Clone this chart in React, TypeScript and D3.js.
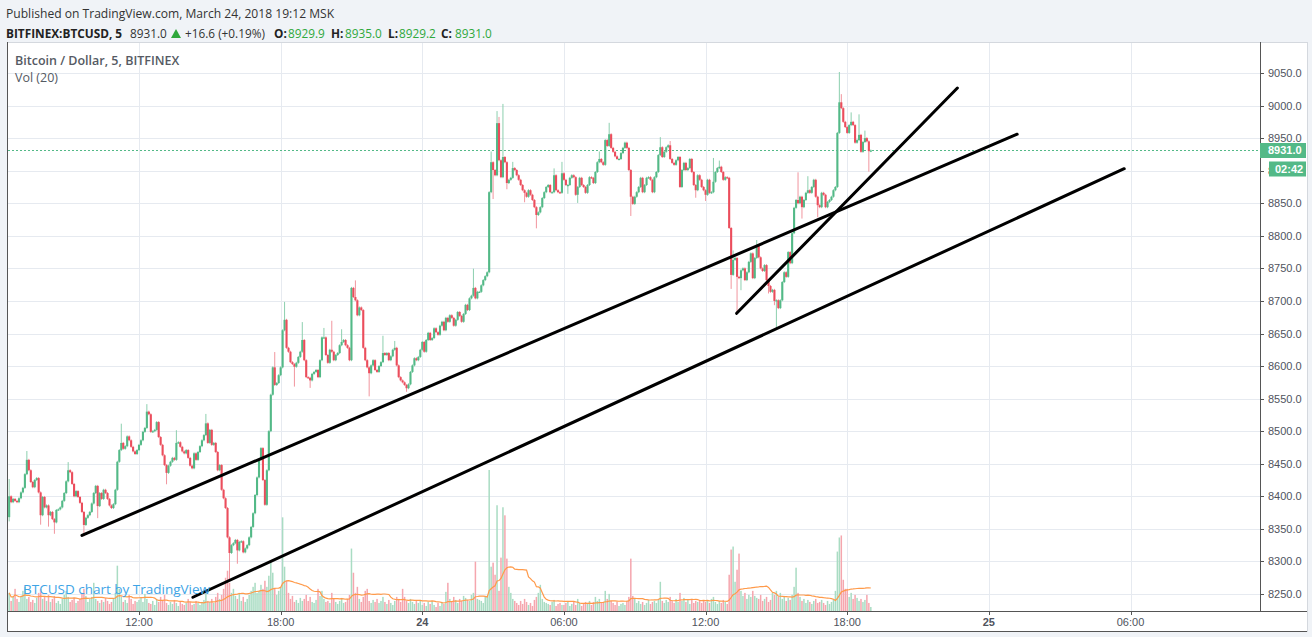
import React from "react";
import * as d3 from "d3";

// ---------- DATA ----------
const START = new Date(2018, 2, 23, 6, 30); // first 5-minute candle
const STEP_MS = 5 * 60 * 1000;
const OPEN0 = 8368;

const closes = [
  8400, 8391, 8396, 8393, 8391, 8397,
  8406, 8413, 8434, 8456, 8440, 8422,
  8414, 8425, 8428, 8406, 8371, 8399,
  8383, 8386, 8371, 8376, 8365, 8360,
  8379, 8380, 8383, 8393, 8405, 8423,
  8440, 8437, 8419, 8400, 8408, 8399,
  8390, 8376, 8356, 8367, 8371, 8376,
  8389, 8405, 8416, 8385, 8405, 8396,
  8410, 8405, 8396, 8386, 8382, 8388,
  8410, 8453, 8471, 8482, 8473, 8477,
  8492, 8486, 8476, 8469, 8465, 8471,
  8479, 8486, 8499, 8505, 8530, 8526,
  8499, 8500, 8502, 8514, 8491, 8479,
  8463, 8448, 8436, 8447, 8453, 8459,
  8456, 8482, 8483, 8476, 8469, 8466,
  8471, 8459, 8447, 8443, 8466, 8456,
  8468, 8477, 8486, 8494, 8512, 8482,
  8502, 8479, 8482, 8468, 8440, 8448,
  8410, 8397, 8382, 8337, 8313, 8325,
  8328, 8333, 8317, 8330, 8331, 8314,
  8320, 8325, 8337, 8353, 8374, 8402,
  8429, 8456, 8474, 8425, 8387, 8440,
  8500, 8556, 8598, 8571, 8574, 8586,
  8598, 8655, 8671, 8628, 8622, 8606,
  8603, 8599, 8605, 8614, 8622, 8640,
  8609, 8583, 8582, 8578, 8588, 8591,
  8594, 8583, 8609, 8644, 8644, 8617,
  8605, 8625, 8622, 8609, 8617, 8620,
  8632, 8637, 8640, 8632, 8628, 8609,
  8720, 8706, 8701, 8678, 8690, 8686,
  8628, 8609, 8598, 8589, 8601, 8609,
  8594, 8591, 8600, 8606, 8620, 8617,
  8620, 8609, 8615, 8625, 8628, 8601,
  8583, 8578, 8575, 8571, 8566, 8572,
  8591, 8601, 8612, 8609, 8614, 8625,
  8637, 8622, 8640, 8651, 8640, 8643,
  8658, 8652, 8648, 8662, 8668, 8655,
  8674, 8668, 8678, 8674, 8662, 8671,
  8683, 8677, 8668, 8680, 8694, 8686,
  8704, 8708, 8720, 8704, 8714, 8714,
  8724, 8732, 8738, 8744, 8867, 8913,
  8901, 8893, 8973, 8916, 8890, 8921,
  8913, 8881, 8886, 8889, 8904, 8901,
  8893, 8886, 8878, 8870, 8866, 8860,
  8870, 8863, 8855, 8844, 8832, 8836,
  8844, 8858, 8867, 8875, 8878, 8867,
  8867, 8893, 8870, 8867, 8866, 8896,
  8886, 8878, 8878, 8889, 8893, 8890,
  8863, 8875, 8889, 8878, 8875, 8866,
  8878, 8890, 8889, 8881, 8898, 8913,
  8918, 8913, 8909, 8947, 8938, 8956,
  8935, 8929, 8922, 8918, 8918, 8927,
  8935, 8943, 8935, 8901, 8860, 8849,
  8860, 8867, 8875, 8889, 8867, 8878,
  8889, 8890, 8886, 8867, 8890, 8898,
  8924, 8936, 8921, 8929, 8936, 8939,
  8918, 8912, 8909, 8916, 8921, 8875,
  8901, 8912, 8901, 8904, 8918, 8898,
  8878, 8870, 8893, 8886, 8875, 8870,
  8863, 8886, 8866, 8867, 8883, 8898,
  8904, 8906, 8898, 8886, 8890, 8889,
  8812, 8740, 8763, 8766, 8737, 8735,
  8747, 8750, 8732, 8744, 8760, 8773,
  8735, 8766, 8786, 8767, 8750, 8746,
  8755, 8732, 8723, 8714, 8717, 8700,
  8701, 8689, 8701, 8729, 8744, 8737,
  8775, 8758, 8804, 8843, 8855, 8850,
  8860, 8844, 8855, 8866, 8870, 8866,
  8875, 8886, 8860, 8847, 8844, 8866,
  8863, 8844, 8852, 8855, 8860, 8870,
  8875, 8958, 9005, 8996, 8975, 8967,
  8958, 8970, 8975, 8970, 8943, 8947,
  8955, 8929, 8944, 8950, 8945, 8930,
  8931,
];

// visible wick extremes: [candle index, high, low]
const wicks = [
  [0, 8425, 8363], [9, 8468, null], [16, null, 8358], [20, null, 8355], [23, null, 8344],
  [30, 8451, null], [38, null, 8340], [45, null, 8368], [57, 8510, null], [70, 8540, null],
  [80, null, 8420], [85, 8500, null], [100, 8525, null], [112, null, 8272], [116, null, 8298],
  [135, 8620, null], [140, 8697, null], [145, null, 8570], [149, 8666, null], [153, null, 8568],
  [160, 8657, null], [164, 8668, null], [169, 8655, null], [176, 8730, null], [183, null, 8555],
  [190, 8645, null], [196, 8637, null], [202, null, 8562], [236, 8748, null], [245, 8928, null],
  [246, null, 8858], [248, 8990, null], [249, 8981, null], [251, 9001, null], [253, null, 8873],
  [256, 8912, null], [262, null, 8853], [268, null, 8813], [277, 8902, null], [281, 8912, null],
  [284, null, 8866], [289, null, 8852], [300, 8928, null], [305, 8972, null], [316, null, 8832],
  [331, 8950, null], [336, 8944, null], [349, null, 8860], [354, null, 8855], [358, 8918, null],
  [361, 8914, null], [367, null, 8720], [368, 8776, null], [370, null, 8683], [372, null, 8718],
  [380, 8792, null], [386, null, 8713], [389, null, 8695], [390, null, 8660], [401, 8896, null],
  [403, null, 8828], [406, 8890, null], [411, null, 8830], [422, 9050, null], [423, 9016, null],
  [428, 8988, null], [432, 8985, null], [435, 8960, null], [437, null, 8900],
];

const volumes = [
  18, 10, 14, 22, 12, 9,
  15, 20, 24, 12, 14, 9, 11, 8, 13, 18, 22, 12,
  14, 10, 16, 9, 12, 15, 8, 10, 7, 12, 16, 20,
  14, 9, 11, 13, 8, 10, 12, 18, 22, 15, 9, 12,
  14, 28, 12, 10, 8, 11, 9, 13, 10, 7, 9, 12,
  18, 45, 22, 14, 9, 11, 8, 16, 12, 7, 10, 9,
  11, 13, 9, 17, 12, 8, 7, 10, 6, 12, 9, 14,
  10, 16, 8, 6, 9, 7, 11, 8, 5, 9, 7, 6,
  8, 12, 9, 6, 7, 10, 8, 6, 9, 11, 21, 10,
  9, 12, 8, 14, 18, 12, 16, 22, 33, 40, 28, 18,
  22, 15, 12, 18, 10, 14, 9, 12, 16, 20, 24, 28,
  18, 20, 26, 22, 30, 24, 35, 50, 38, 22, 16, 20,
  24, 93, 44, 30, 18, 12, 15, 9, 11, 8, 13, 10,
  12, 16, 10, 14, 9, 8, 11, 22, 15, 20, 12, 9,
  10, 8, 18, 12, 9, 7, 10, 13, 8, 9, 12, 16,
  62, 38, 18, 24, 12, 9, 14, 20, 22, 10, 8, 11,
  9, 12, 8, 10, 14, 9, 7, 11, 8, 6, 10, 14,
  12, 9, 22, 14, 10, 8, 12, 9, 7, 10, 8, 11,
  6, 8, 5, 9, 7, 10, 6, 4, 8, 5, 9, 7,
  19, 28, 12, 9, 14, 11, 8, 12, 10, 15, 13, 11,
  10, 16, 18, 49, 12, 11, 10, 8, 14, 15, 140, 44,
  48, 36, 105, 20, 53, 103, 95, 52, 24, 18, 12, 10,
  8, 6, 10, 7, 12, 9, 6, 8, 5, 11, 14, 18,
  26, 12, 9, 8, 7, 6, 9, 11, 5, 7, 8, 6,
  6, 8, 10, 5, 7, 9, 6, 12, 8, 5, 7, 9,
  8, 10, 6, 9, 14, 10, 12, 8, 9, 20, 12, 17,
  10, 8, 6, 9, 5, 7, 8, 6, 10, 14, 52, 15,
  12, 8, 10, 7, 9, 6, 8, 11, 7, 9, 10, 8,
  12, 29, 10, 8, 11, 9, 14, 10, 8, 12, 9, 18,
  10, 13, 9, 11, 7, 12, 8, 10, 9, 11, 8, 10,
  9, 11, 8, 12, 14, 9, 7, 10, 8, 11, 9, 7,
  36, 61, 64, 29, 41, 57, 20, 15, 18, 12, 16, 14,
  20, 15, 13, 12, 16, 10, 12, 14, 9, 11, 18, 16,
  20, 14, 18, 12, 15, 10, 13, 11, 16, 24, 43, 18,
  14, 10, 12, 8, 11, 9, 7, 10, 12, 8, 9, 11,
  8, 6, 10, 7, 9, 12, 20, 59, 73, 75, 31, 22,
  22, 14, 18, 12, 16, 13, 10, 12, 9, 11, 16, 8, 4,
];

const priceTicks = [8250, 8300, 8350, 8400, 8450, 8500, 8550, 8600, 8650, 8700, 8750, 8800, 8850, 8900, 8950, 9000, 9050];
const timeTickDates = [
  new Date(2018, 2, 23, 12), new Date(2018, 2, 23, 18), new Date(2018, 2, 24, 0), new Date(2018, 2, 24, 6),
  new Date(2018, 2, 24, 12), new Date(2018, 2, 24, 18), new Date(2018, 2, 25, 0), new Date(2018, 2, 25, 6),
];
const timeTickLabels = ["12:00", "18:00", "24", "06:00", "12:00", "18:00", "25", "06:00"];
const timeTickBold = [false, false, true, false, false, false, true, false];

// trend lines drawn by the author: [start time, start price, end time, end price]
const trendLines = [
  [new Date(2018, 2, 23, 9, 35), 8340, new Date(2018, 2, 25, 1, 12), 8956],
  [new Date(2018, 2, 23, 14, 17), 8245, new Date(2018, 2, 25, 5, 44), 8903],
  [new Date(2018, 2, 24, 13, 19), 8681, new Date(2018, 2, 24, 22, 40), 9027],
];

const LAST_PRICE = 8931.0;
const COUNTDOWN = "02:42";
const MA_LEN = 20;

// ---------- COLORS ----------
const UP = "#53b987";
const DOWN = "#eb4d5c";
const UP_WICK = "#8ccfae";
const DOWN_WICK = "#f1959e";
const UP_VOL = "#a9dcc3";
const DOWN_VOL = "#f5a6ae";
const GRID = "#e6eaf0";
const AXIS_TEXT = "#4f535d";
const FONT = "'Open Sans', 'Liberation Sans', Arial, sans-serif";
const AXIS_FONT = "'Liberation Sans', Arial, sans-serif";

export default function App() {
  const W = 1312, H = 637;
  const plot = { l: 8, r: 1260, t: 43, b: 611 };
  const frame = { l: 7, r: 1308, t: 42, b: 632 };

  const x = d3.scaleTime()
    .domain([new Date(2018, 2, 23, 12), new Date(2018, 2, 25, 6)])
    .range([139, 1130.5]);
  const y = d3.scaleLinear().domain([8250, 9050]).range([594, 73]);
  const vy = d3.scaleLinear().domain([0, d3.max(volumes) as number]).range([plot.b, 470]);

  const wickMap = new Map<number, any>();
  wicks.forEach((w) => wickMap.set(w[0] as number, w));

  const n = Math.min(closes.length, volumes.length);
  const candles = d3.range(n).map((i) => {
    const o = i === 0 ? OPEN0 : closes[i - 1];
    const c = closes[i];
    const w = wickMap.get(i);
    const hi = w && w[1] != null ? Math.max(w[1], o, c) : Math.max(o, c);
    const lo = w && w[2] != null ? Math.min(w[2], o, c) : Math.min(o, c);
    return { t: new Date(START.getTime() + i * STEP_MS), o, c, hi, lo, v: volumes[i], up: c >= o };
  });

  const ma = candles.map((_, i) => d3.mean(volumes.slice(Math.max(0, i - MA_LEN + 1), i + 1)) as number);
  const maPath = d3.line<number>()
    .x((_, i) => x(candles[i].t))
    .y((v) => vy(v))(ma);

  const bodyW = 2.1;
  const volW = 1.5;
  const lastY = y(LAST_PRICE);

  return (
    <div style={{ position: "absolute", left: 0, top: 0, width: W, height: H }}>
      <svg width={W} height={H} style={{ display: "block" }}>
        <defs>
          <clipPath id="plotClip">
            <rect x={plot.l} y={plot.t} width={plot.r - plot.l} height={plot.b - plot.t} />
          </clipPath>
          <clipPath id="hiddenLabelClip">
            <rect x={plot.r} y={plot.t} width={9} height={plot.b - plot.t} />
          </clipPath>
        </defs>
        <rect x={0} y={0} width={W} height={H} fill="#f0f3f7" />

        {/* header */}
        <text x={6} y={18} fontFamily={FONT} fontSize={12.1} fill="#333">
          Published on TradingView.com, March 24, 2018 19:12 MSK
        </text>
        <g fontFamily={FONT} fontSize={11.8}>
          <text x={6} y={38} fontWeight="bold" fill="#222">BITFINEX:BTCUSD, 5</text>
          <text x={130} y={38} fill="#333">8931.0</text>
          <path d="M171,38 L181,38 L176,29 Z" fill="#2fa83c" />
          <text x={185} y={38} fill="#333">+16.6 (+0.19%)</text>
          <text x={274} y={38} fontWeight="bold" fill="#222">O:</text>
          <text x={288} y={38} fill="#2fa83c">8929.9</text>
          <text x={331} y={38} fontWeight="bold" fill="#222">H:</text>
          <text x={345} y={38} fill="#2fa83c">8935.0</text>
          <text x={388} y={38} fontWeight="bold" fill="#222">L:</text>
          <text x={399} y={38} fill="#2fa83c">8929.2</text>
          <text x={441} y={38} fontWeight="bold" fill="#222">C:</text>
          <text x={455} y={38} fill="#2fa83c">8931.0</text>
        </g>

        {/* chart frame */}
        <rect x={frame.l} y={frame.t} width={frame.r - frame.l} height={frame.b - frame.t} fill="#fff" />

        {/* grid */}
        <g>
          {priceTicks.map((p) => (
            <line key={"hg" + p} x1={plot.l} x2={plot.r} y1={Math.round(y(p)) + 0.5} y2={Math.round(y(p)) + 0.5} stroke={GRID} />
          ))}
          {timeTickDates.map((d, i) => (
            <line key={"vg" + i} x1={Math.round(x(d)) + 0.5} x2={Math.round(x(d)) + 0.5} y1={plot.t} y2={plot.b} stroke={GRID} />
          ))}
        </g>

        <g clipPath="url(#plotClip)">
          {/* volume */}
          {candles.map((d, i) => (
            <rect key={"v" + i} x={x(d.t) - volW / 2} y={vy(d.v)} width={volW} height={plot.b - vy(d.v)} fill={d.up ? UP_VOL : DOWN_VOL} />
          ))}
          <path d={maPath || ""} fill="none" stroke="#ff9a4a" strokeWidth={1.2} />

          {/* last price line */}
          <line x1={plot.l} x2={plot.r} y1={Math.round(lastY) + 0.5} y2={Math.round(lastY) + 0.5} stroke={UP} strokeDasharray="2,2" />

          {/* candles */}
          {candles.map((d, i) => {
            const cx = x(d.t);
            const top = y(Math.max(d.o, d.c));
            const bot = y(Math.min(d.o, d.c));
            return (
              <g key={"c" + i}>
                <line x1={cx} x2={cx} y1={y(d.hi) - 1} y2={y(d.lo) + 1} stroke={d.up ? UP_WICK : DOWN_WICK} strokeWidth={1} />
                <rect x={cx - bodyW / 2} y={top} width={bodyW} height={Math.max(1.2, bot - top)} fill={d.up ? UP : DOWN} />
              </g>
            );
          })}

          {/* trend lines */}
          {trendLines.map((l, i) => (
            <line key={"tl" + i} x1={x(l[0] as Date)} y1={y(l[1] as number)} x2={x(l[2] as Date)} y2={y(l[3] as number)}
              stroke="#000" strokeWidth={3} strokeLinecap="round" />
          ))}

          {/* watermark */}
          <text x={23} y={594} fontFamily={FONT} fontSize={13.5} fill="#3ea4e6">BTCUSD chart by TradingView</text>
        </g>

        {/* legend */}
        <text x={15} y={65} fontFamily={FONT} fontSize={12.5} fontWeight={600} fill="#555a63">Bitcoin / Dollar, 5, BITFINEX</text>
        <text x={15} y={82} fontFamily={FONT} fontSize={12.5} fill="#555a63">Vol (20)</text>

        {/* borders */}
        <line x1={frame.l} x2={frame.r} y1={frame.t + 0.5} y2={frame.t + 0.5} stroke="#d4d8de" />
        <line x1={frame.l + 0.5} x2={frame.l + 0.5} y1={frame.t} y2={frame.b} stroke="#555" />
        <line x1={plot.r + 0.5} x2={plot.r + 0.5} y1={frame.t} y2={plot.b} stroke="#555" />
        <line x1={frame.l} x2={frame.r} y1={plot.b + 0.5} y2={plot.b + 0.5} stroke="#555" />
        <line x1={frame.l} x2={frame.r} y1={frame.b - 0.5} y2={frame.b - 0.5} stroke="#555" />
        <line x1={frame.r - 0.5} x2={frame.r - 0.5} y1={frame.t} y2={frame.b} stroke="#d4d8de" />

        {/* price axis */}
        <g fontFamily={AXIS_FONT} fontSize={11} fill={AXIS_TEXT}>
          {priceTicks.map((p) => {
            const hidden = Math.abs(y(p) - (lastY + 18)) < 8;
            return (
              <g key={"pt" + p}>
                <line x1={plot.r} x2={plot.r + 4} y1={Math.round(y(p)) + 0.5} y2={Math.round(y(p)) + 0.5} stroke="#555" />
                <text x={1268} y={y(p) + 4} clipPath={hidden ? "url(#hiddenLabelClip)" : undefined}>{p.toFixed(1)}</text>
              </g>
            );
          })}
        </g>
        <rect x={plot.r} y={lastY - 7.5} width={46} height={15} fill={UP} />
        <text x={1268} y={lastY + 4} fontFamily={AXIS_FONT} fontSize={11} fontWeight="bold" fill="#fff">{LAST_PRICE.toFixed(1)}</text>
        <rect x={1269} y={lastY + 11} width={37} height={15} fill={UP} />
        <text x={1275} y={lastY + 22.5} fontFamily={AXIS_FONT} fontSize={11} fontWeight="bold" fill="#fff">{COUNTDOWN}</text>

        {/* time axis */}
        <g fontFamily={AXIS_FONT} fontSize={11} fill={AXIS_TEXT}>
          {timeTickDates.map((d, i) => (
            <g key={"tt" + i}>
              <line x1={Math.round(x(d)) + 0.5} x2={Math.round(x(d)) + 0.5} y1={plot.b} y2={plot.b + 4} stroke="#555" />
              <text x={x(d)} y={626} textAnchor="middle" fontWeight={timeTickBold[i] ? "bold" : "normal"}>{timeTickLabels[i]}</text>
            </g>
          ))}
        </g>
      </svg>
    </div>
  );
}
